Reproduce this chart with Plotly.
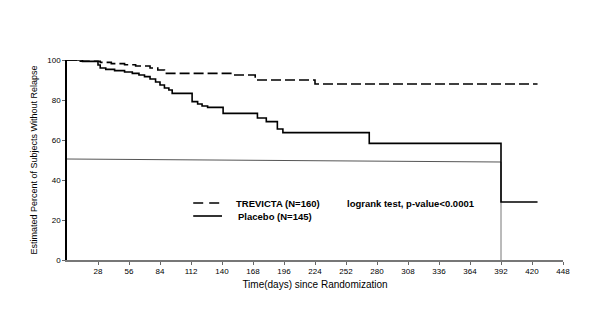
import plotly.graph_objects as go

# Kaplan-Meier step data (days, percent without relapse)
trev_days = [0, 12, 30, 40, 52, 62, 75, 82, 88, 150, 170, 224, 425]
trev_surv = [100, 99.4, 98.8, 98.2, 97.6, 97, 96, 95, 93.3, 92.5, 90, 88, 88]

plac_days = [0, 14, 28, 30, 35, 43, 52, 59, 65, 70, 75, 80, 84, 88, 92, 95,
             113, 118, 122, 127, 141, 172, 180, 190, 195, 273, 392, 425]
plac_surv = [100, 99.3, 97.5, 96, 95.3, 94.7, 94, 93.3, 92.5, 91.7, 90.5, 89, 87.5, 86, 85, 83.3,
             79.2, 78, 77, 76.3, 73.3, 71, 69.2, 65.5, 63.7, 58.3, 29, 29]

median_x = [0, 392]
median_y = [50.5, 49]
drop_x = [392, 392]
drop_y = [49, 0]

x_ticks = [28, 56, 84, 112, 140, 168, 196, 224, 252, 280, 308, 336, 364, 392, 420, 448]
y_ticks = [0, 20, 40, 60, 80, 100]

FONT = "Liberation Sans, Arial, sans-serif"
DASH = "10px,4px"

fig = go.Figure()
fig.add_trace(go.Scatter(x=median_x, y=median_y, mode="lines",
                         line=dict(color="#555555", width=1), showlegend=False, hoverinfo="skip"))
fig.add_trace(go.Scatter(x=drop_x, y=drop_y, mode="lines",
                         line=dict(color="#777777", width=1), showlegend=False, hoverinfo="skip"))
fig.add_trace(go.Scatter(x=trev_days, y=trev_surv, mode="lines", line_shape="hv",
                         line=dict(color="black", width=1.6, dash=DASH),
                         name="TREVICTA (N=160)", showlegend=False))
fig.add_trace(go.Scatter(x=plac_days, y=plac_surv, mode="lines", line_shape="hv",
                         line=dict(color="black", width=1.6),
                         name="Placebo (N=145)", showlegend=False))

# legend drawn manually
fig.add_shape(type="line", xref="x", yref="y", x0=114, x1=140, y0=28.5, y1=28.5,
              line=dict(color="black", width=1.6, dash="10px,6px"))
fig.add_shape(type="line", xref="x", yref="y", x0=114, x1=140, y0=22, y1=22,
              line=dict(color="black", width=1.6))
fig.add_annotation(x=151, y=28.5, xref="x", yref="y", text="<b>TREVICTA (N=160)</b>",
                   showarrow=False, xanchor="left", font=dict(family=FONT, size=9.5, color="black"))
fig.add_annotation(x=153, y=22, xref="x", yref="y", text="<b>Placebo (N=145)</b>",
                   showarrow=False, xanchor="left", font=dict(family=FONT, size=9.5, color="black"))
fig.add_annotation(x=251, y=28.5, xref="x", yref="y", text="<b>logrank test, p-value&lt;0.0001</b>",
                   showarrow=False, xanchor="left", font=dict(family=FONT, size=9.5, color="black"))

fig.update_layout(
    width=600, height=333,
    margin=dict(l=67, r=37, t=60, b=73),
    paper_bgcolor="white", plot_bgcolor="white",
    font=dict(family=FONT, size=8, color="black"),
    showlegend=False,
)
fig.update_xaxes(range=[0, 448], tickvals=x_ticks, ticks="outside", ticklen=3,
                 tickcolor="#666666", showgrid=False, zeroline=False,
                 showline=True, linecolor="#777777", linewidth=1.5,
                 tickfont=dict(size=8), title=dict(text="Time(days) since Randomization",
                                                    font=dict(size=10), standoff=6))
fig.update_yaxes(range=[0, 100], tickvals=y_ticks, ticks="outside", ticklen=3,
                 tickcolor="#666666", showgrid=False, zeroline=False,
                 showline=True, linecolor="black", linewidth=1.5,
                 tickfont=dict(size=8),
                 title=dict(text="Estimated Percent of Subjects Without Relapse",
                            font=dict(size=9), standoff=8))

fig.write_html("out.html")
